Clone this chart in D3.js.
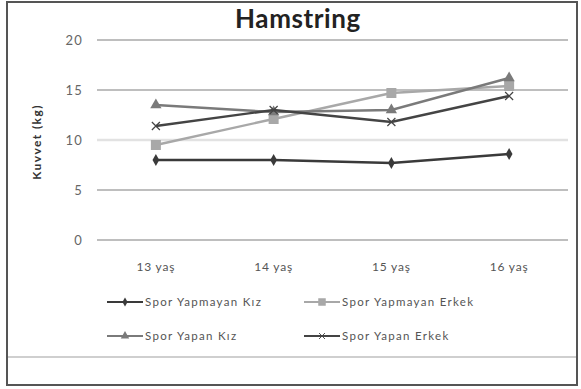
<!DOCTYPE html>
<html>
<head>
<meta charset="utf-8">
<script src="https://cdn.jsdelivr.net/npm/d3@7"></script>
<style>
  html, body { margin: 0; padding: 0; background: #fff; }
  svg { display: block; }
</style>
</head>
<body>
<svg id="chart" width="581" height="389"></svg>
<script>
// Age groups on the x axis
const categories = ["13 yaş", "14 yaş", "15 yaş", "16 yaş"];
// Hamstring strength (kg) per group
const sporYapmayanKiz = [8.0, 8.0, 7.7, 8.6];
const sporYapmayanErkek = [9.5, 12.1, 14.7, 15.4];
const sporYapanKiz = [13.5, 12.8, 13.0, 16.2];
const sporYapanErkek = [11.4, 13.0, 11.8, 14.4];
const yTicks = [0, 5, 10, 15, 20];

const series = [
  { name: "Spor Yapmayan Kız", values: sporYapmayanKiz, color: "#3a3a3a", marker: "diamond" },
  { name: "Spor Yapmayan Erkek", values: sporYapmayanErkek, color: "#a8a8a8", marker: "square" },
  { name: "Spor Yapan Kız", values: sporYapanKiz, color: "#7a7a7a", marker: "triangle" },
  { name: "Spor Yapan Erkek", values: sporYapanErkek, color: "#444444", marker: "cross" }
];

const svg = d3.select("#chart");
const font = "Lato, 'Open Sans', sans-serif";

// Outer frame and lower panel separator
svg.append("rect").attr("x", 7).attr("y", 2).attr("width", 570).attr("height", 383)
  .attr("fill", "#fff").attr("stroke", "#555").attr("stroke-width", 2);
svg.append("line").attr("x1", 8).attr("x2", 576).attr("y1", 357).attr("y2", 357)
  .attr("stroke", "#cfcfcf").attr("stroke-width", 2);

const plot = { left: 97, right: 568, top: 40, bottom: 240 };

const x = d3.scaleBand().domain(categories).range([plot.left, plot.right]);
const y = d3.scaleLinear().domain([0, 20]).range([plot.bottom, plot.top]);

// Gridlines
svg.append("g").selectAll("line").data(yTicks).join("line")
  .attr("x1", plot.left).attr("x2", plot.right)
  .attr("y1", d => y(d)).attr("y2", d => y(d))
  .attr("stroke", d => d === 10 ? "#e2e2e2" : "#a8a8a8")
  .attr("stroke-width", d => d === 10 ? 2.5 : 1.3);

// Y axis tick labels
const yAxis = d3.axisLeft(y).tickValues(yTicks).tickSize(0).tickPadding(14);
const gy = svg.append("g").attr("transform", `translate(${plot.left},0)`).call(yAxis);
gy.select(".domain").remove();
gy.selectAll("text").attr("font-family", font).attr("font-size", 13)
  .attr("letter-spacing", 1.2).attr("fill", "#666");

// X axis category labels
const xAxis = d3.axisBottom(x).tickSize(0).tickPadding(22);
const gx = svg.append("g").attr("transform", `translate(0,${plot.bottom})`).call(xAxis);
gx.select(".domain").remove();
gx.selectAll("text").attr("font-family", font).attr("font-size", 12)
  .attr("letter-spacing", 0.8).attr("fill", "#555");

// Title
svg.append("text").attr("x", 298).attr("y", 28).attr("text-anchor", "middle")
  .attr("font-family", font).attr("font-weight", "bold").attr("font-size", 26)
  .attr("letter-spacing", 0.6).attr("fill", "#222").text("Hamstring");

// Y axis title
svg.append("text").attr("transform", "translate(41,142) rotate(-90)")
  .attr("text-anchor", "middle").attr("font-family", font).attr("font-weight", "bold")
  .attr("font-size", 12).attr("letter-spacing", 1.4).attr("fill", "#333").text("Kuvvet (kg)");

const cx = d => x(d) + x.bandwidth() / 2;

function drawMarker(g, type, color) {
  if (type === "diamond") {
    g.append("path").attr("d", d3.symbol(d3.symbolDiamond, 40)()).attr("fill", color);
  } else if (type === "square") {
    g.append("rect").attr("x", -5).attr("y", -5).attr("width", 10).attr("height", 10).attr("fill", color);
  } else if (type === "triangle") {
    g.append("path").attr("d", d3.symbol(d3.symbolTriangle, 55)()).attr("fill", color);
  } else if (type === "cross") {
    g.append("path").attr("d", "M-4,-4L4,4M-4,4L4,-4").attr("stroke", color).attr("stroke-width", 1.2);
  }
}

const line = d3.line().x((d, i) => cx(categories[i])).y(d => y(d));

series.forEach(s => {
  svg.append("path").datum(s.values).attr("d", line)
    .attr("fill", "none").attr("stroke", s.color).attr("stroke-width", 2.4);
  s.values.forEach((v, i) => {
    const g = svg.append("g").attr("transform", `translate(${cx(categories[i])},${y(v)})`);
    drawMarker(g, s.marker, s.color);
  });
});

// Legend
const legendPos = [
  { x: 107, y: 302 }, { x: 304, y: 302 },
  { x: 107, y: 336 }, { x: 304, y: 336 }
];
series.forEach((s, i) => {
  const p = legendPos[i];
  svg.append("line").attr("x1", p.x).attr("x2", p.x + 36).attr("y1", p.y).attr("y2", p.y)
    .attr("stroke", s.color).attr("stroke-width", 2.2);
  const g = svg.append("g").attr("transform", `translate(${p.x + 18},${p.y}) scale(0.75)`);
  drawMarker(g, s.marker, s.color);
  svg.append("text").attr("x", p.x + 38).attr("y", p.y + 4)
    .attr("font-family", font).attr("font-size", 11.5).attr("letter-spacing", 1.3)
    .attr("fill", "#555").text(s.name);
});
</script>
</body>
</html>
